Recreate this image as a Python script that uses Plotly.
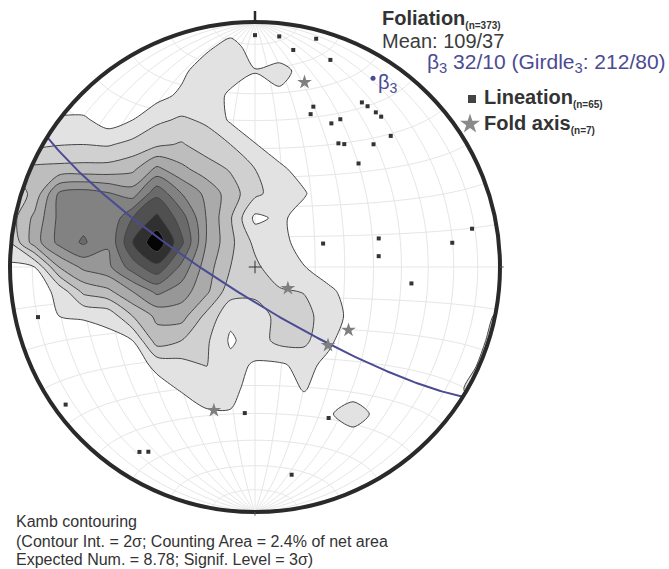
import numpy as np
import plotly.graph_objects as go

# ---------------- data ----------------
# Kamb density (in sigma) sampled on a regular grid of the equal-area plane
# (unit primitive circle, x to the east, y to the north; rows from north to south)
grid_x = [round(-1.0 + 0.1 * i, 1) for i in range(21)]
grid_y = [round(1.0 - 0.1 * i, 1) for i in range(21)]
density = [
    [0, 0, 0, 0, 0, 0, 0, 0, 0, 0.5, 0, 0, 0, 0, 0, 0, 0, 0, 0, 0, 0],
    [0, 0, 0, 0, 0, 0, 0, 0, 1.5, 2.8, 1.0, 0, 0, 0, 0, 0, 0, 0, 0, 0, 0],
    [0, 0, 0, 0, 0, 0, 0.3, 1.5, 3.2, 3.3, 2.1, 3.0, 1.0, 0, 0, 0, 0, 0, 0, 0, 0],
    [0, 0, 0.2, 0.3, 0.5, 0.8, 1.3, 2.4, 3.6, 1.5, 1.0, 1.4, 0.5, 0, 0, 0, 0, 0, 0, 0, 0],
    [2.0, 2.3, 2.4, 2.4, 1.0, 2.0, 3.6, 4.3, 3.7, 1.7, 0.6, 0.2, 0, 0, 0, 0, 0, 0, 0, 0, 0],
    [3.0, 3.5, 3.9, 4.0, 3.8, 4.6, 5.6, 6.2, 5.0, 4.0, 2.1, 0.9, 0.3, 0, 0, 0, 0, 0, 0, 0, 0],
    [6.0, 6.5, 6.6, 6.7, 6.8, 7.5, 10.5, 8.5, 7.0, 5.8, 4.0, 2.4, 1.2, 0.3, 0, 0, 0, 0, 0, 0, 0],
    [4.5, 6.6, 12.3, 13.0, 12.2, 11.0, 15.5, 12.0, 9.5, 7.0, 4.5, 3.0, 2.2, 0.5, 0, 0, 0, 0, 0, 0, 0],
    [5.0, 8.5, 12.5, 13.2, 12.0, 16.0, 18.5, 15.0, 10.0, 6.2, 1.5, 2.4, 1.2, 0.3, 0, 0, 0, 0, 0, 0, 0],
    [4.0, 9.0, 12.6, 14.3, 12.2, 18.0, 21.5, 16.5, 10.0, 6.5, 3.5, 3.0, 0.8, 0.2, 0, 0, 0, 0, 0, 0, 0],
    [1.5, 2.0, 8.0, 10.5, 11.5, 15.0, 17.5, 13.5, 9.0, 6.0, 4.5, 2.5, 2.1, 0.5, 0, 0, 0, 0, 0, 0, 0],
    [0.3, 0.8, 2.6, 6.5, 7.5, 10.0, 12.5, 11.0, 8.5, 4.8, 4.5, 4.3, 3.9, 2.6, 0.8, 0, 0, 0, 0, 0, 0],
    [0, 0.3, 2.0, 2.2, 2.6, 6.0, 8.5, 8.8, 5.5, 2.5, 3.0, 4.6, 4.8, 2.8, 1.5, 0.2, 0, 0, 0, 0, 2.8],
    [0, 0, 0.5, 1.0, 1.4, 2.0, 7.0, 6.0, 4.4, 1.7, 3.0, 4.6, 4.5, 2.4, 0.8, 0, 0, 0, 0, 0, 4.8],
    [0, 0, 0, 0, 0, 0.8, 2.6, 3.3, 4.1, 2.6, 1.8, 1.7, 2.6, 1.5, 0.3, 0, 0, 0, 0, 1.8, 5.0],
    [0, 0, 0, 0, 0, 0, 1.0, 2.2, 3.0, 2.8, 0.8, 0.5, 2.2, 0.5, 1.2, 0, 0, 0, 0, 3.8, 6.0],
    [0, 0, 0, 0, 0, 0, 0, 0.5, 1.7, 1.8, 0.3, 0, 0, 1.8, 2.8, 1.6, 0, 0, 0, 0, 0],
    [0, 0, 0, 0, 0, 0, 0, 0, 0, 0, 0, 0, 0, 0, 1.3, 0, 0, 0, 0, 0, 0],
    [0] * 21,
    [0] * 21,
    [0] * 21,
]

# Lineations (trend / plunge, degrees)
lin_trend = [0, 6, 15, 10, 20, 20, 20, 33, 35, 38, 40, 30, 28, 46, 34, 36, 44, 45,
             71, 77, 85, 80, 83, 96, 257, 234, 212, 210, 184, 170, 154]
lin_plunge = [6, 6, 4, 11, 11, 31, 34, 21, 21, 21, 21, 31, 34, 24, 39, 38, 31, 40,
              66, 47, 48, 11, 20, 36, 10, 5, 12, 14, 40, 15, 32]

# Fold axes (trend / plunge)
fold_trend = [15, 123, 124, 137, 196]
fold_plunge = [23, 77, 52, 54, 39]

# Girdle (dip direction / dip) and its pole beta3 (trend / plunge)
girdle_dipdir, girdle_dip = 212, 80
beta_trend, beta_plunge = 32, 10

# Contour levels (sigma) and fill shades
contour_start, contour_end, contour_step = 2, 20, 2
band_colors = ["rgba(255,255,255,0)", "#e2e2e2", "#d0d0d0", "#bdbdbd", "#aaaaaa",
               "#979797", "#828282", "#6a6a6a", "#505050", "#303030", "#050505"]

BLUE = "#4b4b93"
DARK = "#333333"
FONT = "Arial, Liberation Sans, sans-serif"


# ---------------- projection helpers ----------------
def project_line(trend, plunge):
    t = np.radians(np.asarray(trend, dtype=float))
    p = np.radians(np.asarray(plunge, dtype=float))
    r = np.sqrt(2.0) * np.sin((np.pi / 2 - p) / 2)
    return r * np.sin(t), r * np.cos(t)


def great_circle(dipdir, dip, n=181):
    D = np.radians(dipdir)
    d = np.radians(dip)
    s = D - np.pi / 2
    a = np.linspace(0, np.pi, n)
    north = np.cos(a) * np.cos(s) + np.sin(a) * np.cos(d) * np.cos(D)
    east = np.cos(a) * np.sin(s) + np.sin(a) * np.cos(d) * np.sin(D)
    down = np.sin(a) * np.sin(d)
    trend = np.degrees(np.arctan2(east, north))
    plunge = np.degrees(np.arcsin(np.clip(down, -1, 1)))
    return project_line(trend, plunge)


def net_point(lon, lat):
    lon = np.radians(lon)
    lat = np.radians(lat)
    k = np.sqrt(1.0 / (1.0 + np.cos(lat) * np.cos(lon)))
    return k * np.cos(lat) * np.sin(lon), k * np.sin(lat)


# ---------------- figure ----------------
fig = go.Figure()

# Schmidt net (10 degree spacing) as a single path drawn beneath all traces
segs = []
lat_s = np.linspace(-90, 90, 91)
for lon in range(-80, 90, 10):
    x, y = net_point(np.full_like(lat_s, lon), lat_s)
    segs.append("M" + " L".join(f"{a:.4f},{b:.4f}" for a, b in zip(x, y)))
lon_s = np.linspace(-90, 90, 91)
for lat in range(-80, 90, 10):
    x, y = net_point(lon_s, np.full_like(lon_s, lat))
    segs.append("M" + " L".join(f"{a:.4f},{b:.4f}" for a, b in zip(x, y)))
net_path = " ".join(segs)

# Kamb contours
nb = len(band_colors) - 1
fig.add_trace(go.Contour(
    x=grid_x, y=grid_y, z=density,
    autocontour=False,
    contours=dict(start=contour_start, end=contour_end, size=contour_step, coloring="fill"),
    colorscale=[[k / nb, c] for k, c in enumerate(band_colors)],
    line=dict(color="#454545", width=1, smoothing=0.8),
    showscale=False, hoverinfo="skip",
))

# white surround outside the primitive circle
th = np.linspace(0, -2 * np.pi, 361)
X0, X1, Y0, Y1 = -1.3, 1.9, -1.4, 1.3
mx = [X1, X1, X0, X0, X1, X1] + list(np.cos(th)) + [X1]
my = [0, Y1, Y1, Y0, Y0, 0] + list(np.sin(th)) + [0]
fig.add_trace(go.Scatter(x=mx, y=my, mode="lines", fill="toself", fillcolor="white",
                         line=dict(width=0, color="white"), hoverinfo="skip"))

# girdle great circle
cx, cy = great_circle(girdle_dipdir, girdle_dip)
fig.add_trace(go.Scatter(x=cx, y=cy, mode="lines", line=dict(color=BLUE, width=2),
                         hoverinfo="skip"))

# lineations
lx, ly = project_line(lin_trend, lin_plunge)
fig.add_trace(go.Scatter(x=lx, y=ly, mode="markers",
                         marker=dict(symbol="square", size=4, color=DARK)))

# fold axes
fx, fy = project_line(fold_trend, fold_plunge)
fig.add_trace(go.Scatter(x=fx, y=fy, mode="markers",
                         marker=dict(symbol="star", size=11, color="#7f7f7f",
                                     line=dict(width=0))))

# beta3 pole
bx, by = project_line([beta_trend], [beta_plunge])
fig.add_trace(go.Scatter(x=bx, y=by, mode="markers",
                         marker=dict(symbol="circle", size=5, color=BLUE)))

# centre mark
fig.add_trace(go.Scatter(x=[0], y=[0], mode="markers",
                         marker=dict(symbol="cross-thin", size=9,
                                     line=dict(width=1, color=DARK))))

# pixel -> plane coordinates for layout placement
CX, CY, R = 255.0, 267.0, 245.0


def P(px, py):
    return (px - CX) / R, (CY - py) / R


# legend symbols
sq = P(472, 99)
st = P(470, 124)
fig.add_trace(go.Scatter(x=[sq[0]], y=[sq[1]], mode="markers",
                         marker=dict(symbol="square", size=8, color="#444444")))
fig.add_trace(go.Scatter(x=[st[0]], y=[st[1]], mode="markers",
                         marker=dict(symbol="star", size=15, color="#8a8a8a",
                                     line=dict(width=0))))

shapes = [
    dict(type="path", xref="x", yref="y", path=net_path,
         line=dict(color="#e6e6e6", width=1), layer="below"),
    dict(type="circle", xref="x", yref="y", x0=-1, y0=-1, x1=1, y1=1,
         line=dict(color="#2a2a2a", width=4), layer="above"),
    dict(type="line", xref="x", yref="y", x0=0, y0=1.0, x1=0, y1=1.045,
         line=dict(color="#2a2a2a", width=2.5), layer="above"),
    dict(type="line", xref="x", yref="y", x0=1.0, y0=0, x1=1.015, y1=0,
         line=dict(color="#555555", width=1), layer="above"),
    dict(type="line", xref="x", yref="y", x0=0, y0=-1.0, x1=0, y1=-1.015,
         line=dict(color="#555555", width=1), layer="above"),
]


def note(px, py, text, size, color=DARK, anchor="left"):
    x, y = P(px, py)
    return dict(x=x, y=y, xref="x", yref="y", text=text, showarrow=False,
                xanchor=anchor, yanchor="middle",
                font=dict(family=FONT, size=size, color=color))


small = "<span style='font-size:10px'>{}</span>"
annotations = [
    note(380, 19, "<b>Foliation<sub>" + small.format("(n=373)") + "</sub></b>", 20, "#333333"),
    note(380, 41, "Mean: 109/37", 20, "#3c3c3c"),
    note(425, 63, "β<sub>3</sub> 32/10 (Girdle<sub>3</sub>: 212/80)", 21, BLUE),
    note(376, 83, "β<sub>3</sub>", 20, BLUE),
    note(482, 98, "<b>Lineation<sub>" + small.format("(n=65)") + "</sub></b>", 20, "#333333"),
    note(482, 124, "<b>Fold axis<sub>" + small.format("(n=7)") + "</sub></b>", 20, "#333333"),
    note(14, 521, "Kamb contouring", 16),
    note(14, 541, "(Contour Int. = 2σ; Counting Area = 2.4% of net area", 16),
    note(14, 559, "Expected Num. = 8.78; Signif. Level = 3σ)", 16),
]

fig.update_layout(
    width=669, height=569,
    margin=dict(l=0, r=0, t=0, b=0),
    paper_bgcolor="white", plot_bgcolor="white",
    showlegend=False,
    xaxis=dict(range=[-CX / R, (669 - CX) / R], visible=False, fixedrange=True),
    yaxis=dict(range=[(CY - 569) / R, CY / R], visible=False, fixedrange=True),
    shapes=shapes,
    annotations=annotations,
)

fig.write_html("out.html")
